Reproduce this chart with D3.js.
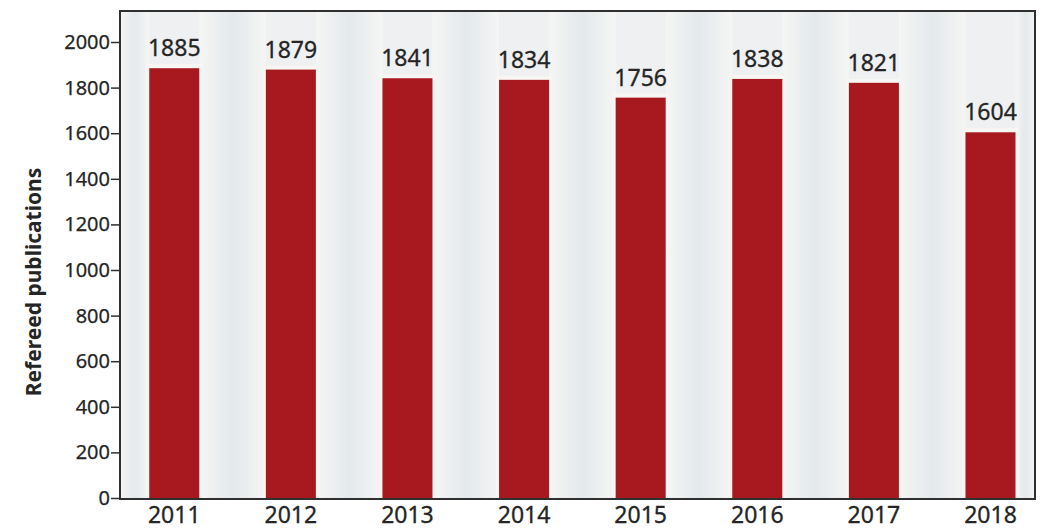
<!DOCTYPE html>
<html>
<head>
<meta charset="utf-8">
<script src="https://cdn.jsdelivr.net/npm/d3@7"></script>
<style>
  html, body { margin: 0; padding: 0; background: #ffffff; }
  svg { display: block; }
  text { font-family: "Noto Sans", "Open Sans", sans-serif; fill: #252525; }
</style>
</head>
<body>
<svg id="chart" width="1042" height="529"></svg>
<script>
// Refereed publications per year
const years = ["2011", "2012", "2013", "2014", "2015", "2016", "2017", "2018"];
const publications = [1885, 1879, 1841, 1834, 1756, 1838, 1821, 1604];
const yTicks = [0, 200, 400, 600, 800, 1000, 1200, 1400, 1600, 1800, 2000];
const yTitle = "Refereed publications";

const svg = d3.select("#chart");
const frame = { left: 120, right: 1035, top: 11, bottom: 499 };
const fontStack = "\"Noto Sans\", \"Open Sans\", sans-serif";

const x = d3.scaleBand()
  .domain(years)
  .range([frame.left, frame.right])
  .paddingInner(0.571)
  .paddingOuter(0.209)
  .align(0.6);

const y = d3.scaleLinear()
  .domain([0, 2000])
  .range([498, 42]);

// Soft shading in the gaps between columns
const defs = svg.append("defs");
const grad = defs.append("linearGradient")
  .attr("id", "gap-shade")
  .attr("x1", "0%").attr("x2", "100%").attr("y1", "0%").attr("y2", "0%");
grad.append("stop").attr("offset", "0%").attr("stop-color", "#f5f5f4");
grad.append("stop").attr("offset", "50%").attr("stop-color", "#e4e9ec");
grad.append("stop").attr("offset", "100%").attr("stop-color", "#f5f5f4");

svg.append("rect")
  .attr("x", frame.left).attr("y", frame.top)
  .attr("width", frame.right - frame.left)
  .attr("height", frame.bottom - frame.top)
  .attr("fill", "#eef0f1");

// gap regions: from each bar's right edge to the next bar's left edge (plus outer margins)
const edges = [frame.left];
years.forEach(d => { edges.push(x(d)); edges.push(x(d) + x.bandwidth()); });
edges.push(frame.right);
const gaps = d3.range(0, edges.length, 2).map(i => [edges[i], edges[i + 1]]);

svg.append("g").selectAll("rect")
  .data(gaps)
  .join("rect")
  .attr("x", d => d[0])
  .attr("y", frame.top)
  .attr("width", d => d[1] - d[0])
  .attr("height", frame.bottom - frame.top)
  .attr("fill", "url(#gap-shade)");

// light halo at the top of each column
svg.append("g").selectAll("rect")
  .data(publications)
  .join("rect")
  .attr("x", (d, i) => x(years[i]) - 3)
  .attr("y", d => y(d) - 4)
  .attr("width", x.bandwidth() + 6)
  .attr("height", d => y(0) - y(d) + 4)
  .attr("fill", "#f8f6f2");

// columns
svg.append("g").selectAll("rect")
  .data(publications)
  .join("rect")
  .attr("x", (d, i) => x(years[i]))
  .attr("y", d => y(d))
  .attr("width", x.bandwidth())
  .attr("height", d => y(0) - y(d))
  .attr("fill", "#a8191f");

// value labels
svg.append("g").selectAll("text")
  .data(publications)
  .join("text")
  .attr("x", (d, i) => x(years[i]) + x.bandwidth() / 2)
  .attr("y", d => y(d) - 12)
  .attr("text-anchor", "middle")
  .attr("font-size", 23)
  .attr("stroke", "#252525")
  .attr("stroke-width", 0.3)
  .text(d => d);

// plot frame
svg.append("rect")
  .attr("x", frame.left).attr("y", frame.top)
  .attr("width", frame.right - frame.left)
  .attr("height", frame.bottom - frame.top)
  .attr("fill", "none")
  .attr("stroke", "#2f2f2f")
  .attr("stroke-width", 2);

// y axis
const yAxis = svg.append("g")
  .attr("transform", `translate(${frame.left},0)`)
  .call(d3.axisLeft(y).tickValues(yTicks).tickSize(9).tickPadding(1).tickFormat(d3.format("d")));
yAxis.select(".domain").remove();
yAxis.selectAll(".tick line").attr("stroke", "#2f2f2f").attr("stroke-width", 1.5);
yAxis.selectAll(".tick text")
  .attr("font-size", 20)
  .attr("font-family", fontStack)
  .attr("fill", "#252525")
  .attr("stroke", "#252525")
  .attr("stroke-width", 0.25);

// x axis labels
const xAxis = svg.append("g")
  .attr("transform", `translate(0,${frame.bottom})`)
  .call(d3.axisBottom(x).tickSize(0).tickPadding(8));
xAxis.select(".domain").remove();
xAxis.selectAll(".tick text")
  .attr("font-size", 23)
  .attr("font-family", fontStack)
  .attr("fill", "#252525")
  .attr("stroke", "#252525")
  .attr("stroke-width", 0.3);

// y axis title
svg.append("text")
  .attr("transform", "translate(41,282) rotate(-90)")
  .attr("text-anchor", "middle")
  .attr("font-size", 21)
  .attr("font-weight", "bold")
  .attr("fill", "#333333")
  .text(yTitle);
</script>
</body>
</html>
